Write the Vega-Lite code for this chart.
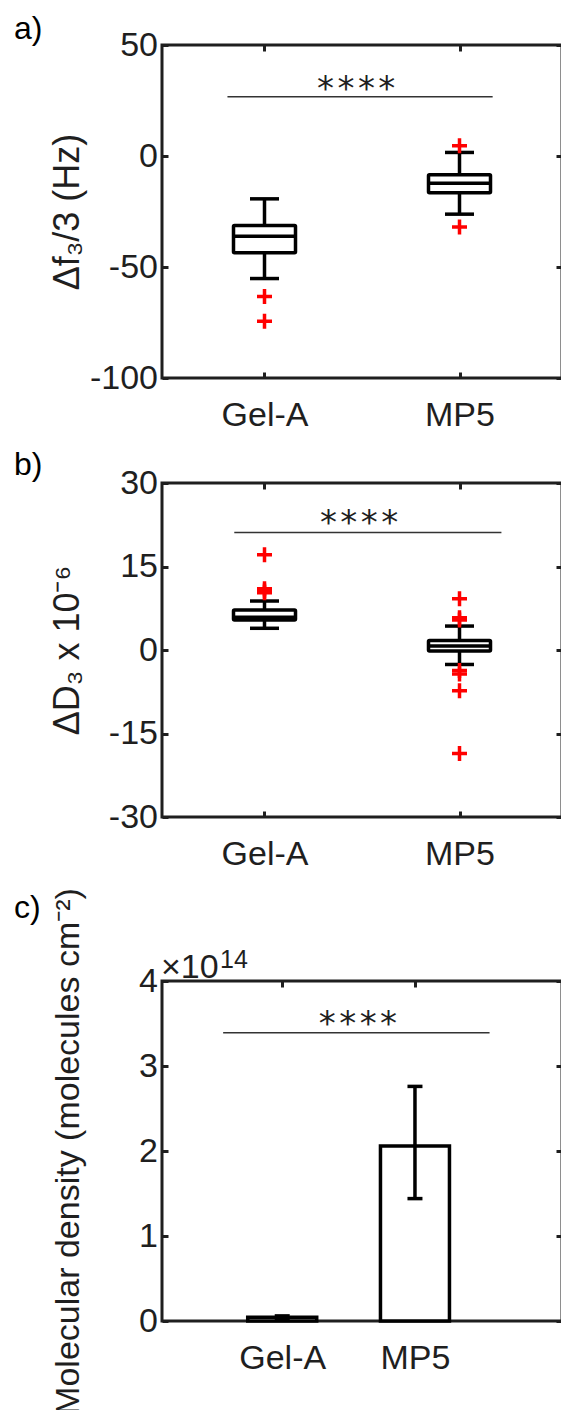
{
  "$schema": "https://vega.github.io/schema/vega-lite/v6.json",
  "background": "white",
  "padding": {"left": 12, "top": 11, "right": 0, "bottom": 0},
  "autosize": {"type": "pad"},
  "spacing": 13,
  "datasets": {
    "a_box": [
      {"group": "Gel-A", "pos": 1, "lower": -55.2, "q1": -43.6, "median": -36.1, "q3": -31.3, "upper": -19.3},
      {"group": "MP5", "pos": 2, "lower": -26.2, "q1": -16.6, "median": -12.3, "q3": -8.5, "upper": 1.6}
    ],
    "a_out": [
      {"group": "Gel-A", "pos": 1, "value": -63.3},
      {"group": "Gel-A", "pos": 1, "value": -74.4},
      {"group": "MP5", "pos": 2, "value": 4.6},
      {"group": "MP5", "pos": 2, "value": -32.0}
    ],
    "a_sig": [{"x1": 0.81, "x2": 2.17, "xm": 1.47, "y": 26.7, "label": "****"}],
    "b_box": [
      {"group": "Gel-A", "pos": 1, "lower": 3.9, "q1": 5.4, "median": 5.9, "q3": 7.2, "upper": 8.8},
      {"group": "MP5", "pos": 2, "lower": -2.6, "q1": -0.2, "median": 0.7, "q3": 1.7, "upper": 4.3}
    ],
    "b_out": [
      {"group": "Gel-A", "pos": 1, "value": 17.1},
      {"group": "Gel-A", "pos": 1, "value": 11.0},
      {"group": "Gel-A", "pos": 1, "value": 10.6},
      {"group": "Gel-A", "pos": 1, "value": 10.3},
      {"group": "MP5", "pos": 2, "value": 9.2},
      {"group": "MP5", "pos": 2, "value": 5.8},
      {"group": "MP5", "pos": 2, "value": 5.4},
      {"group": "MP5", "pos": 2, "value": -3.7},
      {"group": "MP5", "pos": 2, "value": -4.3},
      {"group": "MP5", "pos": 2, "value": -7.3},
      {"group": "MP5", "pos": 2, "value": -18.6}
    ],
    "b_sig": [{"x1": 0.845, "x2": 2.215, "xm": 1.485, "y": 21.1, "label": "****"}],
    "c_bar": [
      {"group": "Gel-A", "pos": 1, "mean": 0.045, "lo": 0.03, "hi": 0.06},
      {"group": "MP5", "pos": 2, "mean": 2.06, "lo": 1.44, "hi": 2.76}
    ],
    "c_sig": [{"x1": 0.555, "x2": 2.562, "xm": 1.57, "y": 3.39, "label": "****"}]
  },
  "config": {
    "font": "Liberation Sans",
    "view": {"stroke": "#1f1f1f", "strokeWidth": 3},
    "axis": {
      "domain": false, "grid": false,
      "labelFont": "Liberation Sans", "labelFontSize": 34, "labelColor": "#1f1f1f",
      "tickColor": "#1f1f1f", "tickWidth": 3, "tickSize": -6,
      "titleFont": "Liberation Sans", "titleFontSize": 34, "titleFontWeight": "normal", "titleColor": "#1f1f1f"
    }
  },
  "vconcat": [
    {
      "width": 400, "height": 333,
      "resolve": {"axis": {"x": "independent", "y": "independent"}},
      "layer": [
        {"data": {"name": "a_box"}, "mark": {"type": "rule", "color": "#000", "strokeWidth": 3.5},
         "encoding": {
           "x": {"field": "pos", "type": "quantitative", "scale": {"domain": [0.5, 2.5], "nice": false, "zero": false},
                 "axis": {"orient": "bottom", "values": [1, 2], "labelExpr": "datum.value == 1 ? 'Gel-A' : 'MP5'", "title": null, "labelPadding": 26}},
           "y": {"field": "lower", "type": "quantitative", "scale": {"domain": [-100, 50], "nice": false, "zero": false},
                 "axis": {"orient": "left", "values": [-100, -50, 0, 50], "labelExpr": "'' + datum.value", "title": "Δf₃/3 (Hz)", "titleFontSize": 36, "labelPadding": 10.5, "titleX": -84, "titleBaseline": "alphabetic"}},
           "y2": {"field": "upper"}
         }},
        {"data": {"name": "a_box"}, "mark": {"type": "bar", "width": 62, "fill": "white", "stroke": "#000", "strokeWidth": 3.5, "cornerRadius": 1},
         "encoding": {
           "x": {"field": "pos", "type": "quantitative", "axis": null},
           "y": {"field": "q1", "type": "quantitative", "axis": null},
           "y2": {"field": "q3"}
         }},
        {"data": {"name": "a_box"}, "mark": {"type": "tick", "orient": "horizontal", "size": 62, "thickness": 3.5, "color": "#000", "opacity": 1},
         "encoding": {
           "x": {"field": "pos", "type": "quantitative", "axis": {"orient": "top", "values": [1, 2], "labels": false, "title": null}},
           "y": {"field": "median", "type": "quantitative", "axis": {"orient": "right", "values": [-100, -50, 0, 50], "labels": false, "title": null}}
         }},
        {"data": {"name": "a_box"}, "mark": {"type": "tick", "orient": "horizontal", "size": 29, "thickness": 3.5, "color": "#000", "opacity": 1},
         "encoding": {
           "x": {"field": "pos", "type": "quantitative", "axis": null},
           "y": {"field": "lower", "type": "quantitative", "axis": null}
         }},
        {"data": {"name": "a_box"}, "mark": {"type": "tick", "orient": "horizontal", "size": 29, "thickness": 3.5, "color": "#000", "opacity": 1},
         "encoding": {
           "x": {"field": "pos", "type": "quantitative", "axis": null},
           "y": {"field": "upper", "type": "quantitative", "axis": null}
         }},
        {"data": {"name": "a_out"}, "mark": {"type": "point", "shape": "M-1,0H1M0,-1V1", "filled": false, "stroke": "#ff0000", "strokeWidth": 3.5, "size": 225, "opacity": 1},
         "encoding": {
           "x": {"field": "pos", "type": "quantitative", "axis": null},
           "y": {"field": "value", "type": "quantitative", "axis": null}
         }},
        {"data": {"name": "a_sig"}, "mark": {"type": "rule", "color": "#333", "strokeWidth": 1.5},
         "encoding": {
           "x": {"field": "x1", "type": "quantitative", "axis": null},
           "x2": {"field": "x2"},
           "y": {"field": "y", "type": "quantitative", "axis": null}
         }},
        {"data": {"name": "a_sig"}, "mark": {"type": "text", "font": "DejaVu Sans Mono", "fontSize": 34, "baseline": "alphabetic", "dy": 3, "color": "#1f1f1f"},
         "encoding": {
           "x": {"field": "xm", "type": "quantitative", "axis": null},
           "y": {"field": "y", "type": "quantitative", "axis": null},
           "text": {"field": "label"}
         }},
        {"data": {"values": [{"t": "a)"}]}, "mark": {"type": "text", "fontSize": 32, "align": "left", "baseline": "alphabetic", "dx": -153, "dy": -6, "color": "#000"},
         "encoding": {
           "x": {"datum": 0.5, "type": "quantitative", "axis": null},
           "y": {"datum": 50, "type": "quantitative", "axis": null},
           "text": {"field": "t"}
         }}
      ]
    },
    {
      "width": 400, "height": 334,
      "resolve": {"axis": {"x": "independent", "y": "independent"}},
      "layer": [
        {"data": {"name": "b_box"}, "mark": {"type": "rule", "color": "#000", "strokeWidth": 3.5},
         "encoding": {
           "x": {"field": "pos", "type": "quantitative", "scale": {"domain": [0.5, 2.5], "nice": false, "zero": false},
                 "axis": {"orient": "bottom", "values": [1, 2], "labelExpr": "datum.value == 1 ? 'Gel-A' : 'MP5'", "title": null, "labelPadding": 26}},
           "y": {"field": "lower", "type": "quantitative", "scale": {"domain": [-30, 30], "nice": false, "zero": false},
                 "axis": {"orient": "left", "values": [-30, -15, 0, 15, 30], "labelExpr": "'' + datum.value", "title": "ΔD₃ x 10⁻⁶", "titleFontSize": 36, "labelPadding": 10.5, "titleX": -84, "titleBaseline": "alphabetic"}},
           "y2": {"field": "upper"}
         }},
        {"data": {"name": "b_box"}, "mark": {"type": "bar", "width": 62, "fill": "white", "stroke": "#000", "strokeWidth": 3.5, "cornerRadius": 1},
         "encoding": {
           "x": {"field": "pos", "type": "quantitative", "axis": null},
           "y": {"field": "q1", "type": "quantitative", "axis": null},
           "y2": {"field": "q3"}
         }},
        {"data": {"name": "b_box"}, "mark": {"type": "tick", "orient": "horizontal", "size": 62, "thickness": 3.5, "color": "#000", "opacity": 1},
         "encoding": {
           "x": {"field": "pos", "type": "quantitative", "axis": {"orient": "top", "values": [1, 2], "labels": false, "title": null}},
           "y": {"field": "median", "type": "quantitative", "axis": {"orient": "right", "values": [-30, -15, 0, 15, 30], "labels": false, "title": null}}
         }},
        {"data": {"name": "b_box"}, "mark": {"type": "tick", "orient": "horizontal", "size": 29, "thickness": 3.5, "color": "#000", "opacity": 1},
         "encoding": {
           "x": {"field": "pos", "type": "quantitative", "axis": null},
           "y": {"field": "lower", "type": "quantitative", "axis": null}
         }},
        {"data": {"name": "b_box"}, "mark": {"type": "tick", "orient": "horizontal", "size": 29, "thickness": 3.5, "color": "#000", "opacity": 1},
         "encoding": {
           "x": {"field": "pos", "type": "quantitative", "axis": null},
           "y": {"field": "upper", "type": "quantitative", "axis": null}
         }},
        {"data": {"name": "b_out"}, "mark": {"type": "point", "shape": "M-1,0H1M0,-1V1", "filled": false, "stroke": "#ff0000", "strokeWidth": 3.5, "size": 225, "opacity": 1},
         "encoding": {
           "x": {"field": "pos", "type": "quantitative", "axis": null},
           "y": {"field": "value", "type": "quantitative", "axis": null}
         }},
        {"data": {"name": "b_sig"}, "mark": {"type": "rule", "color": "#333", "strokeWidth": 1.5},
         "encoding": {
           "x": {"field": "x1", "type": "quantitative", "axis": null},
           "x2": {"field": "x2"},
           "y": {"field": "y", "type": "quantitative", "axis": null}
         }},
        {"data": {"name": "b_sig"}, "mark": {"type": "text", "font": "DejaVu Sans Mono", "fontSize": 34, "baseline": "alphabetic", "dy": 1, "color": "#1f1f1f"},
         "encoding": {
           "x": {"field": "xm", "type": "quantitative", "axis": null},
           "y": {"field": "y", "type": "quantitative", "axis": null},
           "text": {"field": "label"}
         }},
        {"data": {"values": [{"t": "b)"}]}, "mark": {"type": "text", "fontSize": 32, "align": "left", "baseline": "alphabetic", "dx": -153, "dy": -8, "color": "#000"},
         "encoding": {
           "x": {"datum": 0.5, "type": "quantitative", "axis": null},
           "y": {"datum": 30, "type": "quantitative", "axis": null},
           "text": {"field": "t"}
         }}
      ]
    },
    {
      "width": 400, "height": 340,
      "resolve": {"axis": {"x": "independent", "y": "independent"}},
      "layer": [
        {"data": {"name": "c_bar"}, "mark": {"type": "bar", "width": 69, "fill": "white", "stroke": "#000", "strokeWidth": 3.5},
         "encoding": {
           "x": {"field": "pos", "type": "quantitative", "scale": {"domain": [0.132, 3.07], "nice": false, "zero": false},
                 "axis": {"orient": "bottom", "values": [1, 2], "labelExpr": "datum.value == 1 ? 'Gel-A' : 'MP5'", "title": null, "labelPadding": 26}},
           "y": {"field": "mean", "type": "quantitative", "scale": {"domain": [0, 4], "nice": false, "zero": false},
                 "axis": {"orient": "left", "values": [0, 1, 2, 3, 4], "title": "Molecular density (molecules cm⁻²)", "labelPadding": 10.5, "titleX": -84, "titleBaseline": "alphabetic"}}
         }},
        {"data": {"name": "c_bar"}, "mark": {"type": "rule", "color": "#000", "strokeWidth": 3.5},
         "encoding": {
           "x": {"field": "pos", "type": "quantitative", "axis": {"orient": "top", "values": [1, 2], "labels": false, "title": null}},
           "y": {"field": "lo", "type": "quantitative", "axis": {"orient": "right", "values": [0, 1, 2, 3, 4], "labels": false, "title": null}},
           "y2": {"field": "hi"}
         }},
        {"data": {"name": "c_bar"}, "mark": {"type": "tick", "orient": "horizontal", "size": 15, "thickness": 3.5, "color": "#000", "opacity": 1},
         "encoding": {
           "x": {"field": "pos", "type": "quantitative", "axis": null},
           "y": {"field": "lo", "type": "quantitative", "axis": null}
         }},
        {"data": {"name": "c_bar"}, "mark": {"type": "tick", "orient": "horizontal", "size": 15, "thickness": 3.5, "color": "#000", "opacity": 1},
         "encoding": {
           "x": {"field": "pos", "type": "quantitative", "axis": null},
           "y": {"field": "hi", "type": "quantitative", "axis": null}
         }},
        {"data": {"name": "c_sig"}, "mark": {"type": "rule", "color": "#333", "strokeWidth": 1.5},
         "encoding": {
           "x": {"field": "x1", "type": "quantitative", "axis": null},
           "x2": {"field": "x2"},
           "y": {"field": "y", "type": "quantitative", "axis": null}
         }},
        {"data": {"name": "c_sig"}, "mark": {"type": "text", "font": "DejaVu Sans Mono", "fontSize": 34, "baseline": "alphabetic", "dy": 2, "color": "#1f1f1f"},
         "encoding": {
           "x": {"field": "xm", "type": "quantitative", "axis": null},
           "y": {"field": "y", "type": "quantitative", "axis": null},
           "text": {"field": "label"}
         }},
        {"data": {"values": [{"t": "×10"}]}, "mark": {"type": "text", "fontSize": 34, "align": "left", "baseline": "alphabetic", "dx": -6, "dy": -3, "color": "#1f1f1f"},
         "encoding": {
           "x": {"datum": 0.132, "type": "quantitative", "axis": null},
           "y": {"datum": 4, "type": "quantitative", "axis": null},
           "text": {"field": "t"}
         }},
        {"data": {"values": [{"t": "14"}]}, "mark": {"type": "text", "fontSize": 25, "align": "left", "baseline": "alphabetic", "dx": 53, "dy": -13, "color": "#1f1f1f"},
         "encoding": {
           "x": {"datum": 0.132, "type": "quantitative", "axis": null},
           "y": {"datum": 4, "type": "quantitative", "axis": null},
           "text": {"field": "t"}
         }},
        {"data": {"values": [{"t": "c)"}]}, "mark": {"type": "text", "fontSize": 32, "align": "left", "baseline": "alphabetic", "dx": -153, "dy": -63, "color": "#000"},
         "encoding": {
           "x": {"datum": 0.132, "type": "quantitative", "axis": null},
           "y": {"datum": 4, "type": "quantitative", "axis": null},
           "text": {"field": "t"}
         }}
      ]
    }
  ]
}
